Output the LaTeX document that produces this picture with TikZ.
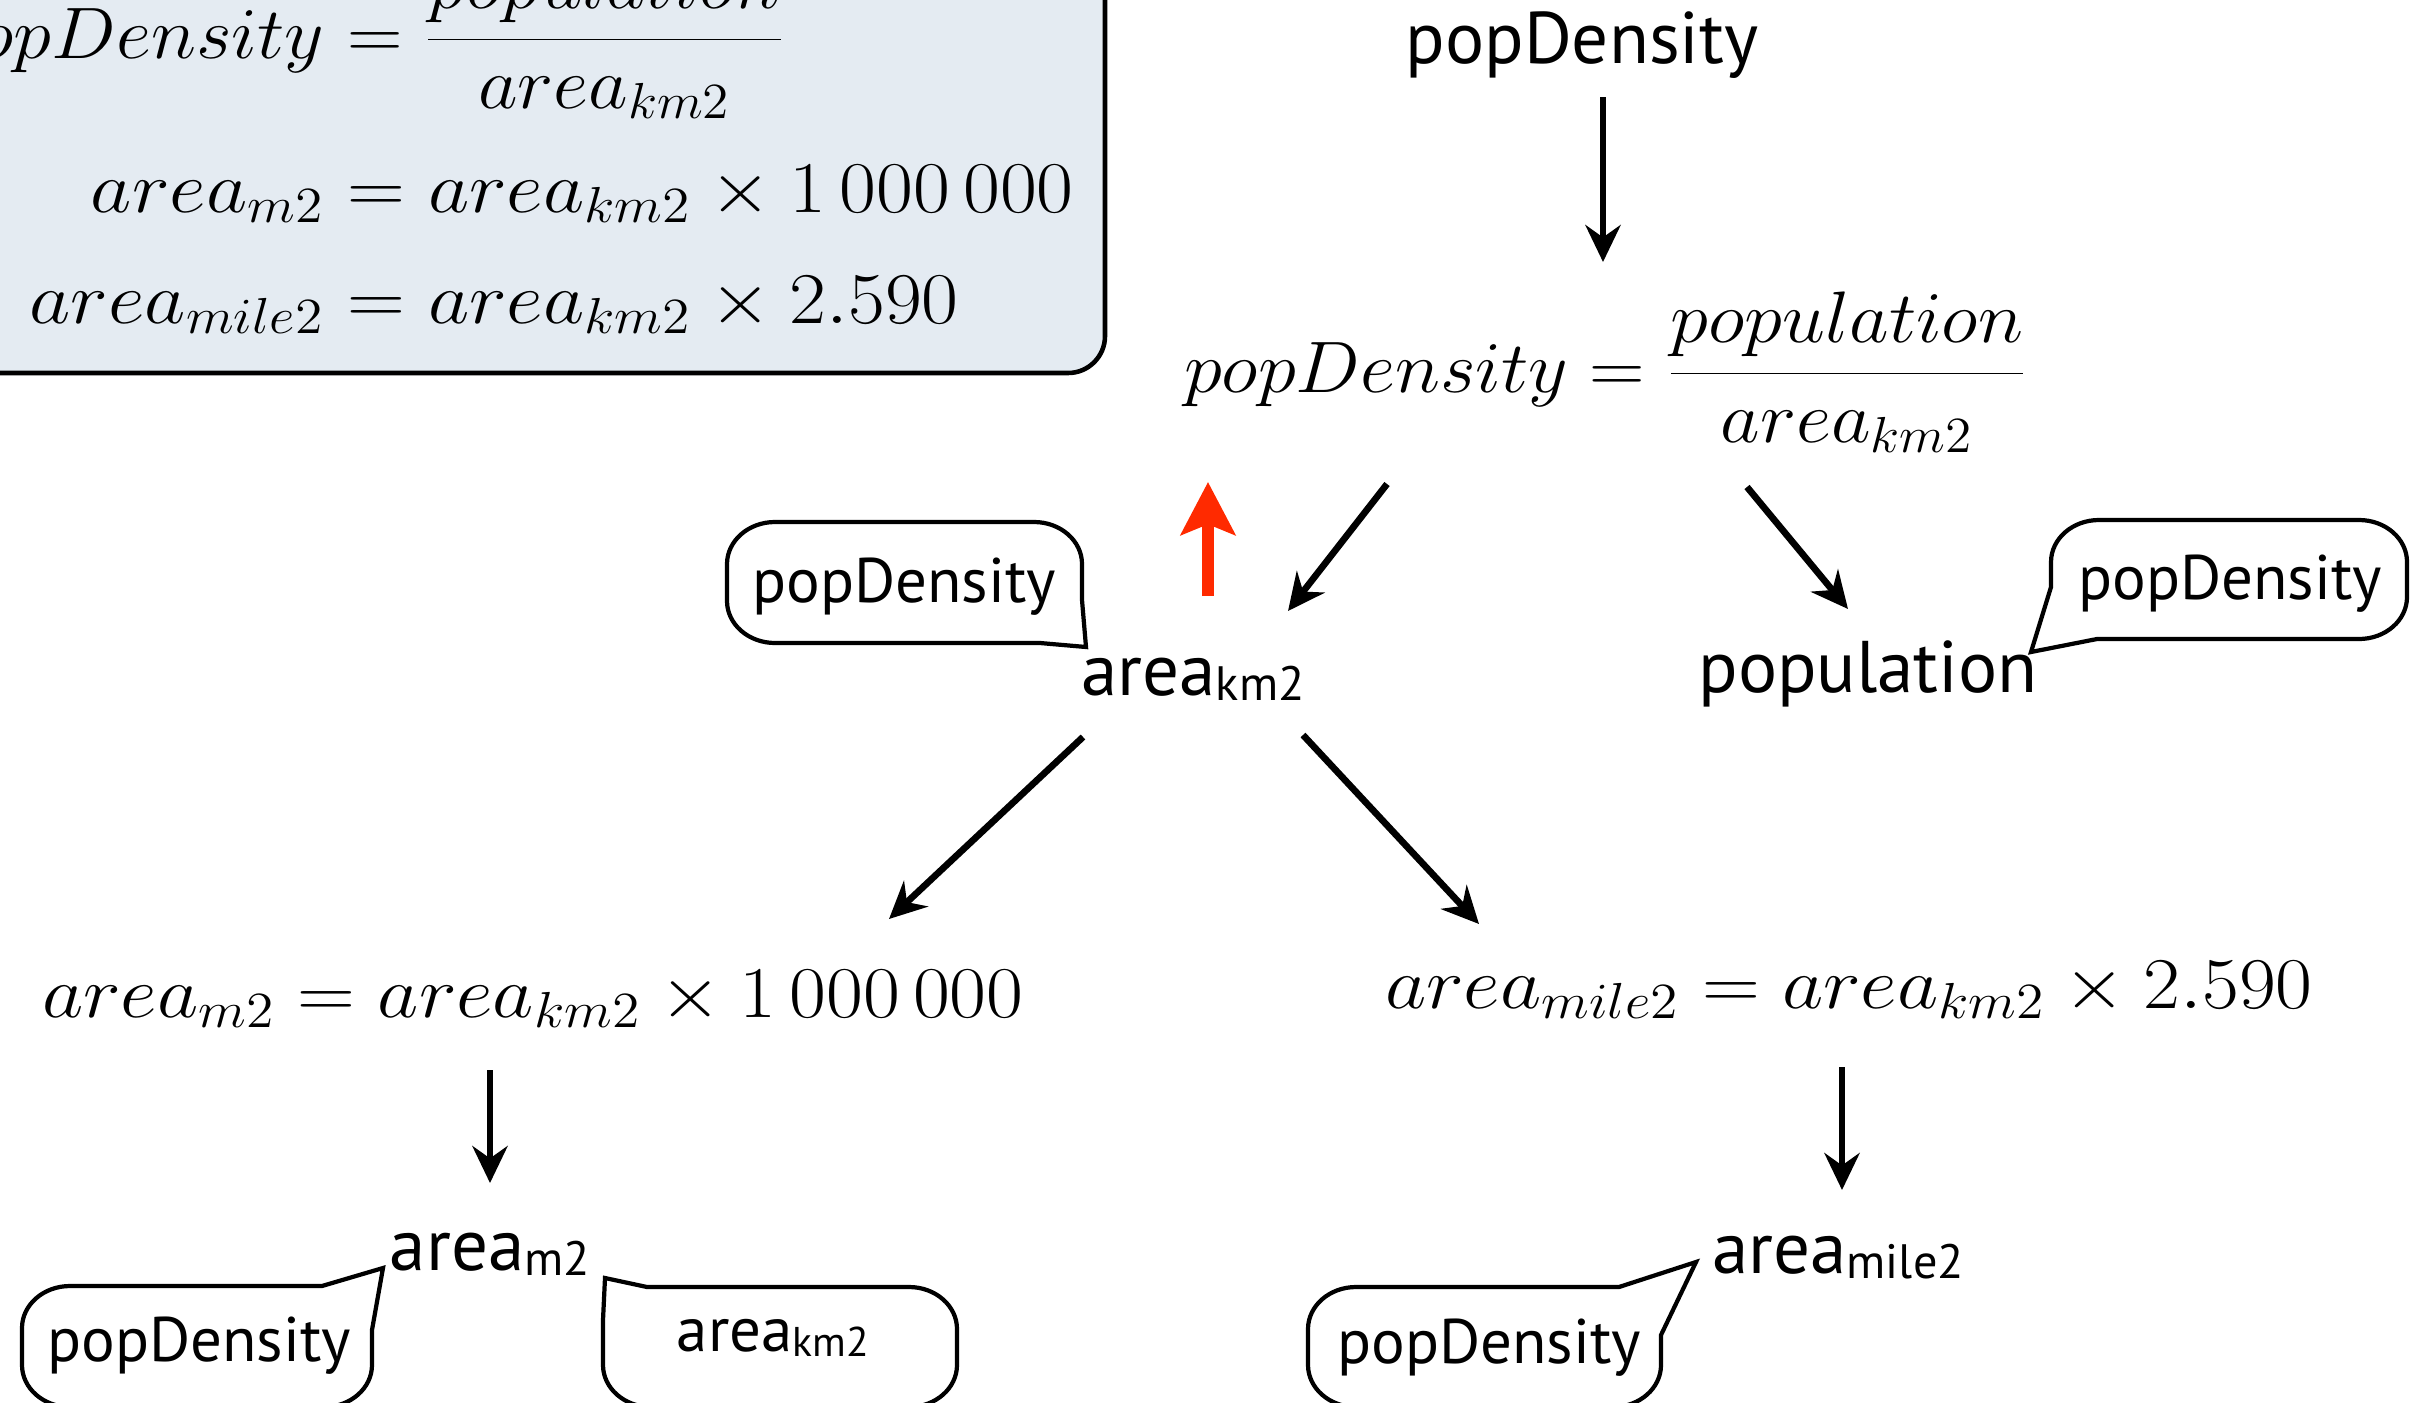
\documentclass[tikz,border=0pt]{standalone}
\usepackage[no-math]{fontspec}
\usepackage{graphicx}
\usetikzlibrary{arrows.meta,calc}
\newfontfamily\labelfont{PT Sans}
\newcommand\ssub[1]{\raisebox{-0.08em}{\scalebox{0.66}{#1}}}
\newcommand\wideA[1]{\scalebox{1.055}[1]{#1}}
\newcommand\wideB[1]{\scalebox{1.10}[1]{#1}}
\definecolor{boxfill}{HTML}{E4EBF2}
\definecolor{redarrow}{HTML}{FF2A00}
\tikzset{
 lbl/.style={inner sep=0pt, font=\labelfont\fontsize{20.8}{25}\selectfont},
 blbl/.style={inner sep=0pt, font=\labelfont\fontsize{17.9}{21}\selectfont},
 eq/.style={inner sep=0pt, font=\fontsize{21.7}{26}\selectfont},
 arr/.style={line width=1.9pt, -{Stealth[length=10.5pt,width=10pt,inset=3.5pt]}},
 redarr/.style={draw=redarrow, line width=3.4pt, -{Stealth[length=15pt,width=15.4pt,inset=3pt]}},
 bubble/.style={draw=black, fill=white, line width=1.2pt, line join=miter},
 eqbox/.style={draw=black, fill=boxfill, line width=1.3pt, rounded corners=10.5pt},
}
\begin{document}
\begin{tikzpicture}[x=0.01cm,y=-0.01cm]
\useasboundingbox (0,0) rectangle (2424,1403);
% formula box
\draw[eqbox] (-40,-40) rectangle (1105,373);
\node[eq, anchor=base east] (b1l) at (325,58) {\wideA{$popDensity$}};
\node[eq, anchor=base west] (b1r) at (325,58) {\wideA{$\displaystyle{}=\frac{population}{area_{km2}}$}};
\node[eq, anchor=base east] (b2l) at (325,212) {\wideB{$area_{m2}$}};
\node[eq, anchor=base west] (b2r) at (325,212) {\wideB{${}=area_{km2}\times 1\,000\,000$}};
\node[eq, anchor=base east] (b3l) at (325,323) {\wideB{$area_{mile2}$}};
\node[eq, anchor=base west] (b3r) at (325,323) {\wideB{${}=area_{km2}\times 2.590$}};
% bubbles
\draw[bubble] (775,522) -- (1034,522) .. controls (1060.5,522) and (1082,540.8) .. (1082,564) -- (1082,600) -- (1086,647) -- (1040,643) -- (775,643) .. controls (748.5,643) and (727,624.2) .. (727,601) -- (727,564) .. controls (727,540.8) and (748.5,522) .. (775,522) -- cycle;
\draw[bubble] (2099,520) -- (2359,520) .. controls (2385.5,520) and (2407,538.8) .. (2407,562) -- (2407,597) .. controls (2407,620.2) and (2385.5,639) .. (2359,639) -- (2097,639) -- (2031,652) -- (2051,587) -- (2051,562) .. controls (2051,538.8) and (2072.5,520) .. (2099,520) -- cycle;
\draw[bubble] (70,1286) -- (322,1286) -- (383,1268) -- (372,1330) -- (372,1365) .. controls (372,1388.2) and (350.5,1407) .. (324,1407) -- (70,1407) .. controls (43.5,1407) and (22,1388.2) .. (22,1365) -- (22,1328) .. controls (22,1304.8) and (43.5,1286) .. (70,1286) -- cycle;
\draw[bubble] (605,1278) -- (647,1287) -- (909,1287) .. controls (935.5,1287) and (957,1305.8) .. (957,1329) -- (957,1365) .. controls (957,1388.2) and (935.5,1407) .. (909,1407) -- (651,1407) .. controls (624.5,1407) and (603,1388.2) .. (603,1365) -- (603,1320) -- cycle;
\draw[bubble] (1356,1287) -- (1619,1287) -- (1696,1262) -- (1661,1335) -- (1661,1365) .. controls (1661,1388.2) and (1639.5,1407) .. (1613,1407) -- (1356,1407) .. controls (1329.5,1407) and (1308,1388.2) .. (1308,1365) -- (1308,1329) .. controls (1308,1305.8) and (1329.5,1287) .. (1356,1287) -- cycle;
\node[blbl, anchor=base] (t1) at (904,602) {popDensity};
\node[blbl, anchor=base] (t2) at (2230,599) {popDensity};
\node[blbl, anchor=base] (t3) at (199,1361) {popDensity};
\node[blbl, anchor=base] (t4) at (773,1351) {area\ssub{km2}};
\node[blbl, anchor=base] (t5) at (1489,1363) {popDensity};
% main nodes
\node[lbl, anchor=base] (pd) at (1582,63) {popDensity};
\node[eq, anchor=base] (f1) at (1606,392) {\wideA{$\displaystyle popDensity=\frac{population}{area_{km2}}$}};
\node[lbl, anchor=base] (ak) at (1193,695) {area\ssub{km2}};
\node[lbl, anchor=base] (pop) at (1868,692) {population};
\node[eq, anchor=base] (f2) at (533,1017) {\wideB{$area_{m2}=area_{km2}\times 1\,000\,000$}};
\node[eq, anchor=base] (f3) at (1849,1008) {\wideB{$area_{mile2}=area_{km2}\times 2.590$}};
\node[lbl, anchor=base] (am) at (490,1270) {area\ssub{m2}};
\node[lbl, anchor=base] (ami) at (1838,1273) {area\ssub{mile2}};
\coordinate (redtip) at (1208,482);
% connectors
\draw[arr] ([shift={(21,34)}]pd.base) -- ([shift={(-3,-130)}]f1.base);
\draw[arr] ([shift={(-219,92)}]f1.base) -- ([shift={(95,-84)}]ak.base);
\draw[arr] ([shift={(141,95)}]f1.base) -- ([shift={(-20,-83)}]pop.base);
\draw[redarr] ([shift={(15,-99)}]ak.base) -- (redtip);
\draw[arr] ([shift={(-110,42)}]ak.base) -- ([shift={(356,-98)}]f2.base);
\draw[arr] ([shift={(110,40)}]ak.base) -- ([shift={(-370,-84)}]f3.base);
\draw[arr] ([shift={(-43,53)}]f2.base) -- ([shift={(0,-87)}]am.base);
\draw[arr] ([shift={(-7,59)}]f3.base) -- ([shift={(4,-83)}]ami.base);
\end{tikzpicture}
\end{document}
